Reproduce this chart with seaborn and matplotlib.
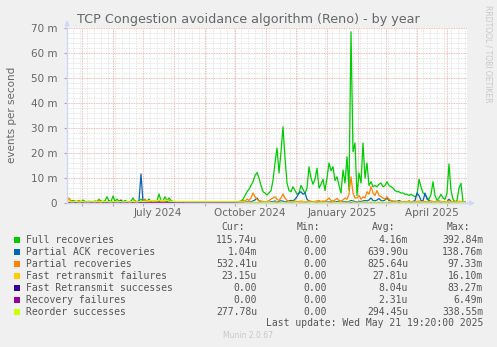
import matplotlib
matplotlib.use("Agg")
import matplotlib.pyplot as plt
import matplotlib.dates as mdates
import matplotlib.ticker as mticker
from matplotlib.patches import Rectangle
import pandas as pd
import seaborn as sns

# ---------------- data (values in milli-events per second) ----------------
start = "2024-04-16"
end = "2025-05-21"

full_recoveries = [
    0.5, 0.6, 0.8, 1.0, 0.5, 0.6, 1.0, 0.4, 1.2, 0.6, 0.5, 0.4, 0.6, 0.5, 0.8, 0.6, 1.5, 0.8, 0.6, 0.9,
    2.5, 0.8, 0.6, 2.8, 0.7, 1.5, 0.8, 0.6, 0.5, 1.0, 0.6, 0.5, 0.7, 2.0, 0.6, 0.5, 0.8, 1.5, 0.7, 1.0,
    0.8, 1.5, 0.7, 0.6, 0.9, 0.8, 3.6, 1.0, 0.8, 2.5, 0.9, 2.0, 1.0, 0.6, 0.4, 0.3, 0.3, 0.3, 0.4, 0.3,
    0.3, 0.3, 0.2, 0.3, 0.3, 0.3, 0.2, 0.2, 0.3, 0.3, 0.3, 0.2, 0.2, 0.3, 0.3, 0.3, 0.2, 0.3, 0.3, 0.3,
    0.3, 0.3, 0.4, 0.3, 0.4, 0.5, 0.6, 0.8, 1.5, 3.0, 4.5, 5.5, 7.0, 8.5, 11.0, 12.2, 10.0, 7.0, 4.5, 4.0,
    3.2, 4.0, 5.0, 9.0, 16.0, 22.0, 12.0, 20.5, 30.5, 18.0, 8.0, 5.0, 4.5, 6.5, 5.0, 3.5, 4.0, 7.0, 5.5, 3.8,
    6.0, 14.5, 10.0, 7.5, 9.5, 13.9, 6.0, 7.5, 9.5, 5.0, 10.0, 16.0, 13.0, 14.5, 9.0, 10.5, 7.0, 4.0, 13.2, 8.0,
    18.5, 5.0, 68.5, 20.5, 24.0, 3.0, 12.0, 8.0, 24.0, 10.0, 16.0, 7.0, 8.5, 6.5, 7.0, 6.5, 7.5, 8.0, 6.5, 7.0,
    8.5, 7.0, 6.5, 6.0, 5.0, 4.5, 4.5, 4.0, 4.0, 3.5, 3.5, 3.0, 3.5, 3.0, 2.5, 3.0, 9.5, 6.5, 4.0, 3.5,
    2.0, 1.5, 3.5, 8.5, 3.0, 1.0, 2.0, 3.5, 2.0, 1.5, 4.0, 15.6, 5.0, 1.5, 0.5, 1.0, 6.0, 7.9, 0.5, 0.3,
]
partial_ack = [
    0.3, 0.4, 0.3, 0.5, 0.8, 0.3, 0.4, 0.3, 0.5, 0.3, 0.4, 0.7, 0.3, 0.4, 0.3, 0.5, 0.4, 0.3, 0.5, 0.4,
    0.4, 0.8, 0.3, 0.5, 0.4, 0.3, 0.6, 1.2, 0.4, 0.3, 0.5, 0.4, 0.3, 0.6, 0.4, 0.5, 0.8, 11.6, 0.6, 1.5,
    0.5, 1.2, 0.6, 0.4, 0.5, 0.8, 0.6, 0.5, 0.6, 1.0, 0.5, 1.0, 0.4, 0.3, 0.3, 0.4, 0.3, 0.5, 0.3, 0.2,
    0.2, 0.3, 0.2, 0.2, 0.5, 0.2, 0.2, 0.3, 0.2, 0.2, 0.2, 0.2, 0.3, 0.2, 0.2, 0.4, 0.2, 0.2, 0.3, 0.2,
    0.3, 0.2, 0.4, 0.3, 0.2, 0.3, 0.3, 0.3, 0.4, 0.3, 0.5, 0.4, 0.6, 0.8, 1.2, 2.0, 0.8, 0.5, 0.4, 0.3,
    0.4, 0.3, 0.5, 0.6, 0.8, 0.5, 0.6, 0.9, 0.7, 0.5, 0.6, 0.8, 1.0, 0.8, 1.5, 2.5, 4.0, 4.5, 3.5, 4.0,
    1.5, 0.8, 0.6, 0.5, 0.4, 0.6, 0.5, 0.4, 0.6, 0.5, 0.4, 0.5, 0.6, 0.5, 0.4, 0.6, 0.5, 0.4, 0.5, 0.6,
    0.5, 0.6, 1.0, 0.8, 0.6, 0.5, 0.7, 0.6, 0.8, 1.0, 0.8, 1.2, 2.0, 1.0, 0.8, 1.2, 1.8, 1.0, 0.8, 1.2,
    2.0, 1.0, 0.8, 0.6, 0.7, 0.6, 1.0, 0.6, 0.5, 0.6, 0.5, 0.8, 0.5, 0.6, 1.0, 4.0, 3.0, 1.0, 0.8, 4.0,
    1.5, 1.0, 0.6, 0.5, 0.6, 0.5, 0.8, 0.5, 0.4, 0.6, 0.5, 1.5, 0.6, 0.5, 0.5, 0.4, 0.5, 0.6, 0.4, 0.5,
]
partial_recoveries = [
    0.5, 2.0, 0.8, 0.4, 0.5, 0.6, 1.0, 0.4, 0.5, 0.3, 0.4, 0.5, 0.3, 0.4, 0.5, 0.4, 1.2, 0.5, 0.4, 0.3,
    0.5, 0.4, 0.6, 0.4, 0.3, 0.5, 0.8, 0.4, 0.3, 0.5, 0.4, 0.3, 0.5, 0.4, 1.0, 0.5, 0.4, 0.6, 0.5, 1.5,
    0.5, 1.0, 0.4, 0.5, 0.6, 0.5, 1.0, 0.5, 0.6, 0.5, 1.3, 0.5, 0.4, 0.3, 0.3, 0.3, 0.3, 0.3, 0.3, 0.3,
    0.3, 0.3, 0.3, 0.3, 0.3, 0.3, 0.3, 0.3, 0.3, 0.3, 0.3, 0.3, 0.3, 0.3, 0.3, 0.3, 0.3, 0.3, 0.3, 0.3,
    0.3, 0.3, 0.3, 0.3, 0.3, 0.4, 0.5, 0.6, 1.0, 0.8, 1.5, 1.0, 2.0, 4.0, 2.5, 1.5, 1.0, 0.8, 0.6, 0.5,
    0.6, 1.0, 1.5, 2.0, 2.5, 1.5, 1.0, 2.0, 3.6, 2.0, 1.0, 0.6, 0.5, 0.6, 0.8, 0.5, 0.6, 0.8, 0.6, 0.5,
    0.6, 0.8, 0.6, 0.5, 0.7, 0.8, 1.0, 0.6, 0.8, 0.7, 1.2, 2.0, 1.0, 0.8, 1.2, 1.8, 1.0, 0.8, 1.2, 2.0,
    1.5, 3.5, 10.5, 4.0, 2.0, 2.0, 3.0, 1.5, 2.5, 2.0, 4.5, 3.5, 6.5, 4.0, 3.0, 5.0, 3.0, 2.5, 2.0, 1.5,
    2.5, 1.5, 1.0, 0.8, 0.6, 0.7, 0.5, 0.6, 0.5, 0.6, 0.5, 0.6, 0.5, 0.4, 0.5, 0.6, 0.8, 0.6, 0.5, 0.6,
    0.5, 0.6, 0.8, 0.6, 0.5, 0.6, 0.5, 0.7, 0.5, 0.6, 0.5, 0.8, 0.6, 0.5, 0.6, 0.5, 0.7, 0.6, 0.5, 0.5,
]
reorder_successes = [
    0.4, 0.6, 0.5, 0.4, 0.6, 0.5, 0.4, 0.5, 0.6, 0.4, 0.5, 0.4, 0.6, 0.5, 0.4, 0.6, 0.5, 0.4, 0.6, 0.5,
    0.6, 0.5, 0.4, 0.6, 0.5, 0.4, 0.5, 0.6, 0.4, 0.5, 0.6, 0.4, 0.5, 0.6, 0.5, 0.4, 0.6, 0.8, 0.6, 0.7,
    0.8, 0.9, 1.0, 0.8, 1.0, 0.9, 1.2, 1.0, 0.9, 1.1, 1.0, 0.8, 0.7, 0.6, 0.6, 0.5, 0.6, 0.5, 0.6, 0.5,
    0.5, 0.5, 0.5, 0.5, 0.5, 0.5, 0.5, 0.5, 0.5, 0.5, 0.5, 0.5, 0.5, 0.5, 0.5, 0.5, 0.5, 0.5, 0.5, 0.5,
    0.5, 0.5, 0.5, 0.5, 0.5, 0.5, 0.4, 0.4, 0.4, 0.3, 0.3, 0.3, 0.3, 0.3, 0.3, 0.3, 0.3, 0.3, 0.3, 0.3,
    0.3, 0.3, 0.2, 0.3, 0.3, 0.4, 0.3, 0.3, 0.2, 0.3, 0.3, 0.3, 0.4, 0.3, 0.3, 0.2, 0.3, 0.3, 0.3, 0.4,
    0.3, 0.3, 0.2, 0.3, 0.3, 0.4, 0.3, 0.3, 0.3, 0.2, 0.3, 0.3, 0.4, 0.3, 0.3, 0.2, 0.3, 0.3, 0.3, 0.3,
    0.4, 0.3, 0.5, 0.3, 0.3, 0.4, 0.3, 0.3, 0.3, 0.4, 0.3, 0.3, 0.4, 0.3, 0.3, 0.3, 0.4, 0.3, 0.3, 0.3,
    0.3, 0.4, 0.3, 0.3, 0.3, 0.3, 0.4, 0.3, 0.3, 0.3, 0.3, 0.3, 0.4, 0.3, 0.3, 0.3, 0.4, 0.3, 0.3, 0.3,
    0.3, 0.3, 0.4, 0.3, 0.3, 0.3, 0.3, 0.4, 0.3, 0.3, 0.3, 0.4, 0.3, 0.3, 0.3, 0.3, 0.4, 0.3, 0.3, 0.3,
]
# coarser series (10-day samples)
fast_retrans_failures = [
    0.05, 0.10, 0.05, 0.08, 0.03, 0.10, 0.05, 0.04, 0.06, 0.03, 0.02, 0.02, 0.02, 0.02, 0.02, 0.02, 0.02, 0.02, 0.02, 0.03,
    0.05, 0.04, 0.03, 0.05, 0.03, 0.04, 0.06, 0.05, 0.10, 0.06, 0.04, 0.03, 0.02, 0.03, 0.02, 0.02, 0.03, 0.02, 0.03, 0.02,
]
fast_retrans_successes = [
    0.01, 0.02, 0.01, 0.00, 0.01, 0.02, 0.01, 0.00, 0.01, 0.00, 0.00, 0.00, 0.00, 0.00, 0.00, 0.00, 0.00, 0.00, 0.00, 0.00,
    0.01, 0.00, 0.01, 0.02, 0.01, 0.00, 0.01, 0.01, 0.02, 0.01, 0.00, 0.01, 0.00, 0.00, 0.01, 0.00, 0.00, 0.00, 0.00, 0.00,
]
recovery_failures = [
    0.00, 0.01, 0.00, 0.00, 0.00, 0.01, 0.00, 0.00, 0.00, 0.00, 0.00, 0.00, 0.00, 0.00, 0.00, 0.00, 0.00, 0.00, 0.00, 0.00,
    0.00, 0.00, 0.00, 0.01, 0.00, 0.00, 0.00, 0.00, 0.01, 0.00, 0.00, 0.00, 0.00, 0.00, 0.00, 0.00, 0.00, 0.00, 0.00, 0.00,
]

series_names = ["Full recoveries", "Partial ACK recoveries", "Partial recoveries",
                "Fast retransmit failures", "Fast Retransmit successes",
                "Recovery failures", "Reorder successes"]
series_colors = ["#00cc00", "#0066b3", "#ff8000", "#ffcc00", "#330099", "#990099", "#ccff00"]
cur_vals = ["115.74u", "1.04m", "532.41u", "23.15u", "0.00", "0.00", "277.78u"]
min_vals = ["0.00", "0.00", "0.00", "0.00", "0.00", "0.00", "0.00"]
avg_vals = ["4.16m", "639.90u", "825.64u", "27.81u", "8.04u", "2.31u", "294.45u"]
max_vals = ["392.84m", "138.76m", "97.33m", "16.10m", "83.27m", "6.49m", "338.55m"]

x_labels = ["July 2024", "October 2024", "January 2025", "April 2025"]
x_label_dates = ["2024-07-16", "2024-10-16", "2025-01-16", "2025-04-16"]

title = "TCP Congestion avoidance algorithm (Reno) - by year"
ylabel = "events per second"
last_update = "Last update: Wed May 21 19:20:00 2025"

# ---------------- build long table ----------------
d2 = pd.date_range(start, periods=len(full_recoveries), freq="2D")
d10 = pd.date_range(start, periods=len(fast_retrans_failures), freq="10D")
parts = []
for name, vals, dts in [
    (series_names[0], full_recoveries, d2),
    (series_names[1], partial_ack, d2),
    (series_names[2], partial_recoveries, d2),
    (series_names[3], fast_retrans_failures, d10),
    (series_names[4], fast_retrans_successes, d10),
    (series_names[5], recovery_failures, d10),
    (series_names[6], reorder_successes, d2),
]:
    parts.append(pd.DataFrame({"date": dts, "value": vals, "series": name}))
df = pd.concat(parts, ignore_index=True)

# ---------------- figure ----------------
W, H = 497, 347
BG = "#f0f0f0"
FONT = "#666666"
AXC = "#cfd6f8"
fig = plt.figure(figsize=(W / 100, H / 100), dpi=100, facecolor=BG)
L, R, T, B = 67, 467, 28, 203
ax = fig.add_axes([L / W, 1 - B / H, (R - L) / W, (B - T) / H])
ax.set_facecolor("white")

sns.lineplot(data=df, x="date", y="value", hue="series", hue_order=series_names,
             palette=dict(zip(series_names, series_colors)), estimator=None,
             linewidth=0.9, legend=False, ax=ax)

ax.set_xlim(pd.Timestamp(start), pd.Timestamp(end))
ax.set_ylim(0, 70)
ax.set_xlabel("")
ax.set_ylabel("")

for s in ["top", "right"]:
    ax.spines[s].set_visible(False)
for s in ["left", "bottom"]:
    ax.spines[s].set_color(AXC)
    ax.spines[s].set_linewidth(1.0)

# y grid
ax.yaxis.set_major_locator(mticker.MultipleLocator(10))
ax.yaxis.set_minor_locator(mticker.MultipleLocator(2))
ax.yaxis.set_major_formatter(mticker.FuncFormatter(lambda v, p: "0" if v == 0 else f"{v:.0f} m"))
# x grid
ax.xaxis.set_major_locator(mdates.MonthLocator())
ax.xaxis.set_minor_locator(mdates.WeekdayLocator(byweekday=mdates.MO))
ax.xaxis.set_major_formatter(mticker.NullFormatter())

ax.grid(which="minor", color="#dedede", linestyle=(0, (1, 1)), linewidth=0.6)
ax.grid(which="major", color="#f2a0a0", linestyle=(0, (1, 1)), linewidth=0.6)
ax.set_axisbelow(True)

ax.tick_params(axis="y", which="major", length=2, color="#aaaaaa", labelsize=7.5,
               labelcolor=FONT, pad=5)
ax.tick_params(axis="y", which="minor", length=0)
ax.tick_params(axis="x", which="major", length=2, color="#aaaaaa")
ax.tick_params(axis="x", which="minor", length=0)

for lab, dt in zip(x_labels, x_label_dates):
    ax.text(pd.Timestamp(dt), -0.055, lab, transform=ax.get_xaxis_transform(),
            ha="center", va="center", fontsize=7.5, color=FONT)

# axis arrows
ax.annotate("", xy=(1.02, 0), xycoords="axes fraction", xytext=(0.99, 0),
            arrowprops=dict(arrowstyle="-|>", color=AXC, lw=1, mutation_scale=7,
                            shrinkA=0, shrinkB=0), annotation_clip=False)
ax.annotate("", xy=(0, 1.045), xycoords="axes fraction", xytext=(0, 0.99),
            arrowprops=dict(arrowstyle="-|>", color=AXC, lw=1, mutation_scale=7,
                            shrinkA=0, shrinkB=0), annotation_clip=False)

def fx(px):
    return px / W

def fy(py):
    return 1 - py / H

fig.text(fx(248.5), fy(19), title, ha="center", va="center", fontsize=9.2, color=FONT)
fig.text(fx(12), fy(115), ylabel, rotation=90, ha="center", va="center", fontsize=7.5, color=FONT)
fig.text(fx(488), fy(5), "RRDTOOL / TOBI OETIKER", rotation=270, ha="center", va="top",
         fontsize=5.5, color="#c8c8c8")

# legend
MONO = "DejaVu Sans Mono"
LC = "#555555"
fs = 7
hdr_y = 227
for txt, xr in zip(["Cur:", "Min:", "Avg:", "Max:"], [245, 320, 395, 470]):
    fig.text(fx(xr), fy(hdr_y), txt, ha="right", va="center", family=MONO, fontsize=fs, color=LC)
for i, name in enumerate(series_names):
    yc = 240 + 12 * i
    fig.add_artist(Rectangle((fx(14), fy(yc + 3)), 6 / W, 6 / H, transform=fig.transFigure,
                             facecolor=series_colors[i], edgecolor="none"))
    fig.text(fx(26), fy(yc), name, ha="left", va="center", family=MONO, fontsize=fs, color=LC)
    for val, xr in zip([cur_vals[i], min_vals[i], avg_vals[i], max_vals[i]], [257, 327, 408, 483]):
        fig.text(fx(xr), fy(yc), val, ha="right", va="center", family=MONO, fontsize=fs, color=LC)
fig.text(fx(483), fy(323.5), last_update, ha="right", va="center", family=MONO, fontsize=fs, color=LC)
fig.text(fx(248), fy(336), "Munin 2.0.67", ha="center", va="center", fontsize=5.5, color="#c8c8c8")

fig.savefig("out.png", dpi=100, facecolor=BG)
